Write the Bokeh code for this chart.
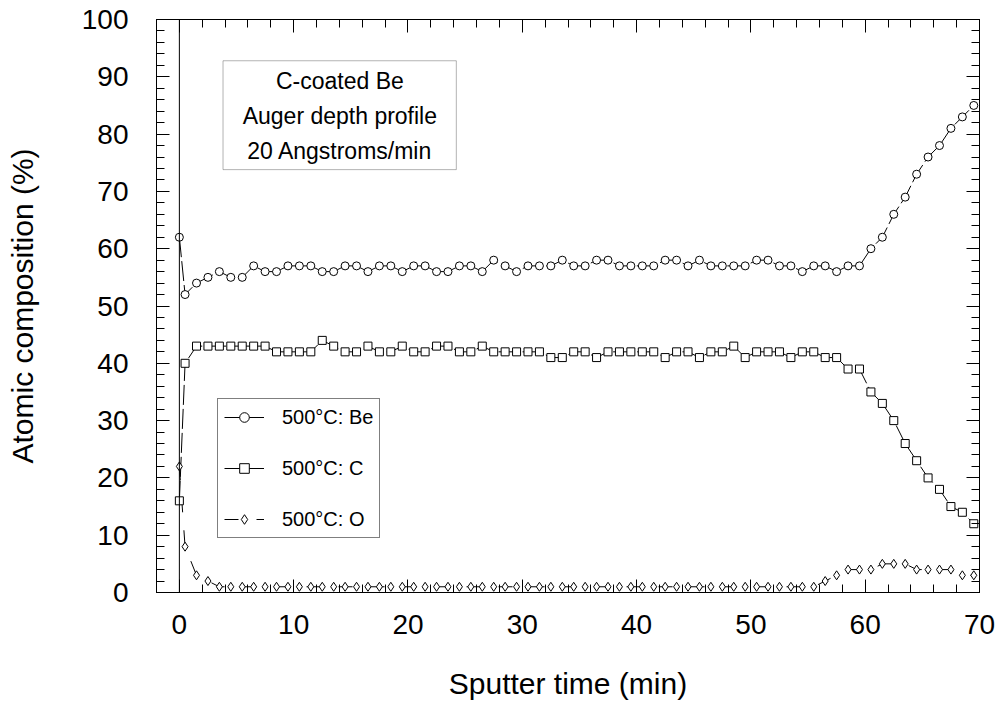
import numpy as np
from bokeh.plotting import figure
from bokeh.models import (Range1d, LinearAxis, SingleIntervalTicker, Span, Label,
                          BoxAnnotation, Legend, LegendItem, ColumnDataSource,
                          CustomLabelingPolicy)
from bokeh.embed import file_html
from bokeh.resources import INLINE

# ---------------- data ----------------
time_min = [0, 0.5, 1.5, 2.5, 3.5, 4.5, 5.5, 6.5, 7.5, 8.5, 9.5,
            10.5, 11.5, 12.5, 13.5, 14.5, 15.5, 16.5, 17.5, 18.5, 19.5,
            20.5, 21.5, 22.5, 23.5, 24.5, 25.5, 26.5, 27.5, 28.5, 29.5,
            30.5, 31.5, 32.5, 33.5, 34.5, 35.5, 36.5, 37.5, 38.5, 39.5,
            40.5, 41.5, 42.5, 43.5, 44.5, 45.5, 46.5, 47.5, 48.5, 49.5,
            50.5, 51.5, 52.5, 53.5, 54.5, 55.5, 56.5, 57.5, 58.5, 59.5,
            60.5, 61.5, 62.5, 63.5, 64.5, 65.5, 66.5, 67.5, 68.5, 69.5]

be_pct = [62, 52, 54, 55, 56, 55, 55, 57, 56, 56, 57,
          57, 57, 56, 56, 57, 57, 56, 57, 57, 56,
          57, 57, 56, 56, 57, 57, 56, 58, 57, 56,
          57, 57, 57, 58, 57, 57, 58, 58, 57, 57,
          57, 57, 58, 58, 57, 58, 57, 57, 57, 57,
          58, 58, 57, 57, 56, 57, 57, 56, 57, 57,
          60, 62, 66, 69, 73, 76, 78, 81, 83, 85]

c_pct = [16, 40, 43, 43, 43, 43, 43, 43, 43, 42, 42,
         42, 42, 44, 43, 42, 42, 43, 42, 42, 43,
         42, 42, 43, 43, 42, 42, 43, 42, 42, 42,
         42, 42, 41, 41, 42, 42, 41, 42, 42, 42,
         42, 42, 41, 42, 42, 41, 42, 42, 43, 41,
         42, 42, 42, 41, 42, 42, 41, 41, 39, 39,
         35, 33, 30, 26, 23, 20, 18, 15, 14, 12]

o_pct = [22, 8, 3, 2, 1, 1, 1, 1, 1, 1, 1,
         1, 1, 1, 1, 1, 1, 1, 1, 1, 1,
         1, 1, 1, 1, 1, 1, 1, 1, 1, 1,
         1, 1, 1, 1, 1, 1, 1, 1, 1, 1,
         1, 1, 1, 1, 1, 1, 1, 1, 1, 1,
         1, 1, 1, 1, 1, 1, 2, 3, 4, 4,
         4, 5, 5, 5, 4, 4, 4, 4, 3, 3]

series_labels = ["500°C: Be", "500°C: C", "500°C: O"]
info_lines = ["C-coated Be", "Auger depth profile", "20 Angstroms/min"]
x_title = "Sputter time (min)"
y_title = "Atomic composition (%)"

FONT = "Liberation Sans"

src = ColumnDataSource(dict(t=time_min, be=be_pct, c=c_pct, o=o_pct))

p = figure(width=1000, height=703, output_backend="svg", toolbar_location=None,
           x_range=Range1d(-2, 70), y_range=Range1d(0, 100),
           x_axis_type=None, y_axis_type=None,
           min_border_left=156, min_border_right=21,
           min_border_top=19, min_border_bottom=111)
p.outline_line_color = "black"
p.outline_line_width = 1
p.background_fill_color = "white"
p.border_fill_color = "white"

no_labels = CustomLabelingPolicy(code="return new Set()")


def make_axis(show_labels, title=None):
    ax = LinearAxis(ticker=SingleIntervalTicker(interval=10, num_minor_ticks=5))
    ax.major_tick_in = 13
    ax.major_tick_out = 0
    ax.minor_tick_in = 8
    ax.minor_tick_out = 0
    ax.axis_line_color = "black"
    ax.major_tick_line_color = "black"
    ax.minor_tick_line_color = "black"
    if show_labels:
        ax.major_label_text_font = FONT
        ax.major_label_text_font_size = "28px"
        ax.major_label_text_color = "black"
    else:
        ax.major_label_policy = no_labels
        ax.major_label_text_font_size = "10px"
        ax.major_label_standoff = 0
    if title:
        ax.axis_label = title
        ax.axis_label_text_font = FONT
        ax.axis_label_text_font_size = "30px"
        ax.axis_label_text_font_style = "normal"
        ax.axis_label_text_color = "black"
    return ax


xb = make_axis(True, x_title)
xb.major_label_standoff = 22
xb.axis_label_standoff = 30
p.add_layout(xb, "below")

yl = make_axis(True, y_title)
yl.major_label_standoff = 28
yl.axis_label_standoff = 40
p.add_layout(yl, "left")

p.add_layout(make_axis(False), "above")
p.add_layout(make_axis(False), "right")

# vertical line at t = 0
p.add_layout(Span(location=0, dimension="height", line_color="black", line_width=1))

# series
l_be = p.line("t", "be", source=src, line_color="black", line_width=1, line_dash="20 4")
l_c = p.line("t", "c", source=src, line_color="black", line_width=1, line_dash="20 4")
l_o = p.line("t", "o", source=src, line_color="black", line_width=1, line_dash="14 18")

m_be = p.scatter("t", "be", source=src, marker="circle", size=8,
                 fill_color="white", line_color="black", line_width=1)
m_c = p.scatter("t", "c", source=src, marker="square", size=8,
                fill_color="white", line_color="black", line_width=1)
m_o = p.scatter("t", "o", source=src, marker="diamond", size=9,
                fill_color="white", line_color="black", line_width=1)

legend = Legend(items=[LegendItem(label=series_labels[0], renderers=[l_be, m_be]),
                       LegendItem(label=series_labels[1], renderers=[l_c, m_c]),
                       LegendItem(label=series_labels[2], renderers=[l_o, m_o])],
                location=(61, 54), padding=6, spacing=27,
                glyph_width=40, glyph_height=24, label_height=21, label_standoff=18,
                label_text_font=FONT, label_text_font_size="20px",
                label_text_color="black",
                border_line_color="black", border_line_width=1, margin=0,
                background_fill_color="white", background_fill_alpha=1)
p.add_layout(legend)

# info box
p.add_layout(BoxAnnotation(left=3.82, right=24.23, bottom=73.8, top=92.8,
                           fill_color="white", fill_alpha=1,
                           line_color="black", line_width=1))
for txt, yy in zip(info_lines, [89.35, 83.2, 77.0]):
    p.add_layout(Label(x=14.04, y=yy, text=txt, text_align="center",
                       text_baseline="middle", text_font=FONT,
                       text_font_size="23px", text_color="black"))

open("out.html", "w").write(file_html(p, INLINE))
